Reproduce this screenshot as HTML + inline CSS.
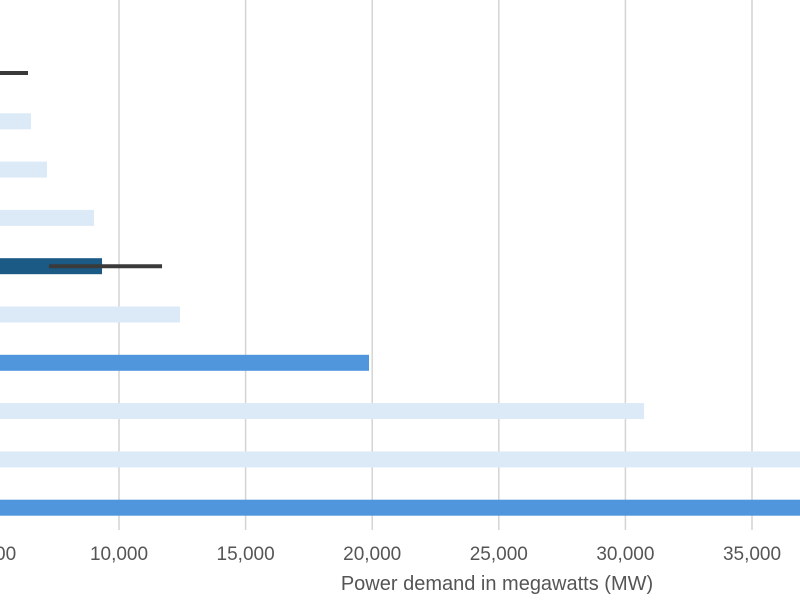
<!DOCTYPE html>
<html><head><meta charset="utf-8"><style>
body{margin:0;background:#fff;width:800px;height:600px;overflow:hidden;font-family:"Liberation Sans",sans-serif}
</style></head><body>
<svg id="c" width="800" height="600"></svg>
<script>
const categories=["c0","c1","c2","c3","c4","c5","c6","c7","c8","c9"];
const values=[5000,6525,7156,9013,9330,12409,19874,30738,37500,40000];
const colors=["light","light","light","light","dark","light","mid","light","light","mid"];
const errLow=[4000,null,null,null,7235,null,null,null,null,null];
const errHigh=[6406,null,null,null,11700,null,null,null,null,null];
const ticks=[5000,10000,15000,20000,25000,30000,35000];
const tickLabels=["5,000","10,000","15,000","20,000","25,000","30,000","35,000"];
const pal={light:"#dce9f7",mid:"#4f96dc",dark:"#1a5a85"};
const NS="http://www.w3.org/2000/svg";
const svg=document.getElementById('c');
const x=v=>119+(v-10000)*126.6/5000;
const y=i=>73+i*48.3;
function mk(t,a){const e=document.createElementNS(NS,t);for(const k in a)e.setAttribute(k,a[k]);svg.appendChild(e);return e;}
ticks.forEach((t,i)=>{
  const g=mk('line',{x1:x(t),x2:x(t),y1:0,y2:530,stroke:'#d4d4d4','stroke-width':1.5});
  
  
  const l=mk('text',{x:x(t),y:560,'text-anchor':'middle','font-size':19,fill:'#555'});
  l.textContent=tickLabels[i];
  
  
});
values.forEach((v,i)=>{
  const r=mk('rect',{x:-10,y:y(i)-8,width:Math.max(0,x(v)+10),height:16,fill:pal[colors[i]]});
  
  
  if(errLow[i]!=null){
    const e=mk('line',{x1:x(errLow[i]),x2:x(errHigh[i]),y1:y(i),y2:y(i),stroke:'#3a3a3a','stroke-width':4});
    
    
  }
});
const tt=mk('text',{x:497,y:590,'text-anchor':'middle','font-size':20,fill:'#555'});
tt.textContent="Power demand in megawatts (MW)";


</script>
</body></html>
